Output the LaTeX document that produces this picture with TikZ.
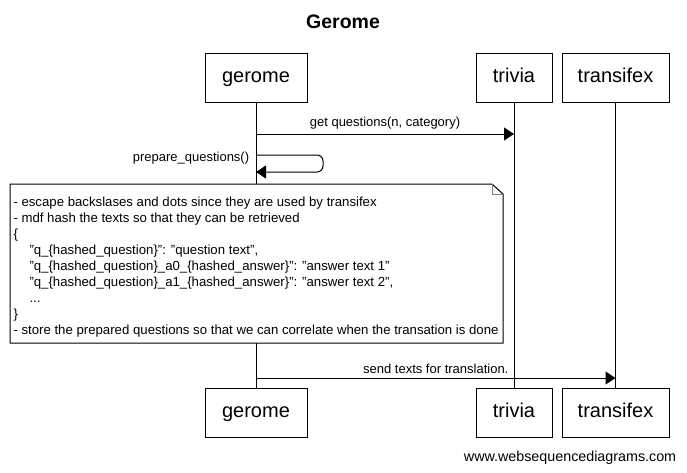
\documentclass[tikz,border=0pt]{standalone}
\usepackage{fontspec}
\setmainfont{Liberation Sans}
\usetikzlibrary{arrows.meta,calc,positioning}
\newcommand{\dq}{\symbol{34}}

\begin{document}
\begin{tikzpicture}[x=1pt,y=-1pt,>={Triangle[length=10pt,width=13pt]},line width=1pt,font=\fontsize{13}{15}\selectfont]
\tikzstyle{actor}=[draw,fill=white,inner sep=0pt,minimum height=49pt,text height=14.5pt,text depth=4pt,font=\fontsize{20}{22}\selectfont]
\tikzstyle{msg}=[->]
\useasboundingbox (0,0) rectangle (687,472);
\node[font=\bfseries\fontsize{19.5}{22}\selectfont] (title) at (343,22) {Gerome};
% participants
\node[actor,minimum width=102pt] (gtop) at (256,77.5) {gerome};
\node[actor,minimum width=76pt] (ttop) at (514,77.5) {trivia};
\node[actor,minimum width=107pt] (xtop) at (615.5,77.5) {transifex};
\node[actor,minimum width=102pt] (gbot) at (256,412.5) {gerome};
\node[actor,minimum width=76pt] (tbot) at (514,412.5) {trivia};
\node[actor,minimum width=107pt] (xbot) at (615.5,412.5) {transifex};
\foreach \p in {g,t,x} \draw (\p top) -- (\p bot);
% messages
\coordinate (q1) at (gtop |- 0,134);
\coordinate (q2) at (ttop |- 0,134);
\draw[msg] (q1) -- node[above=0.5pt] {get questions(n, category)} (q2);
\coordinate (s1) at (gtop |- 0,155);
\coordinate (s2) at (gtop |- 0,172);
\draw[msg,rounded corners=6pt] (s1) -- (s1 -| 323,0) -- (s2 -| 323,0) -- (s2);
\node[anchor=east] (selflbl) at ($(s1)+(-3,3)$) {prepare\_questions()};
% note
\coordinate (nw) at (10,184);
\coordinate (se) at (503,343);
\draw[fill=white] (nw) -- ($(nw -| se)+(-11,0)$) -- ($(nw -| se)+(0,10)$) -- (se) -- (se -| nw) -- cycle;
\draw[gray] ($(nw -| se)+(-11,0)$) -- ($(nw -| se)+(-11,10)$) -- ($(nw -| se)+(0,10)$);
\node[anchor=north west,align=left,inner sep=0pt,font=\fontsize{13.2}{16}\selectfont] (notetxt) at ($(nw)+(3,12)$) {%
- escape backslases and dots since they are used by transifex\\
- mdf hash the texts so that they can be retrieved\\
\{\\
\hspace*{16pt}\dq q\_\{hashed\_question\}\dq: \dq question text\dq,\\
\hspace*{16pt}\dq q\_\{hashed\_question\}\_a0\_\{hashed\_answer\}\dq: \dq answer text 1\dq\\
\hspace*{16pt}\dq q\_\{hashed\_question\}\_a1\_\{hashed\_answer\}\dq: \dq answer text 2\dq,\\
\hspace*{16pt}...\\
\}\\
- store the prepared questions so that we can correlate when the transation is done};
\coordinate (t1) at (gtop |- 0,378);
\coordinate (t2) at (xtop |- 0,378);
\draw[msg] (t1) -- node[above=0.5pt] {send texts for translation.} (t2);
\node[anchor=east,font=\fontsize{14.3}{16}\selectfont] (credit) at (680,458) {www.websequencediagrams.com};
\end{tikzpicture}
\end{document}
